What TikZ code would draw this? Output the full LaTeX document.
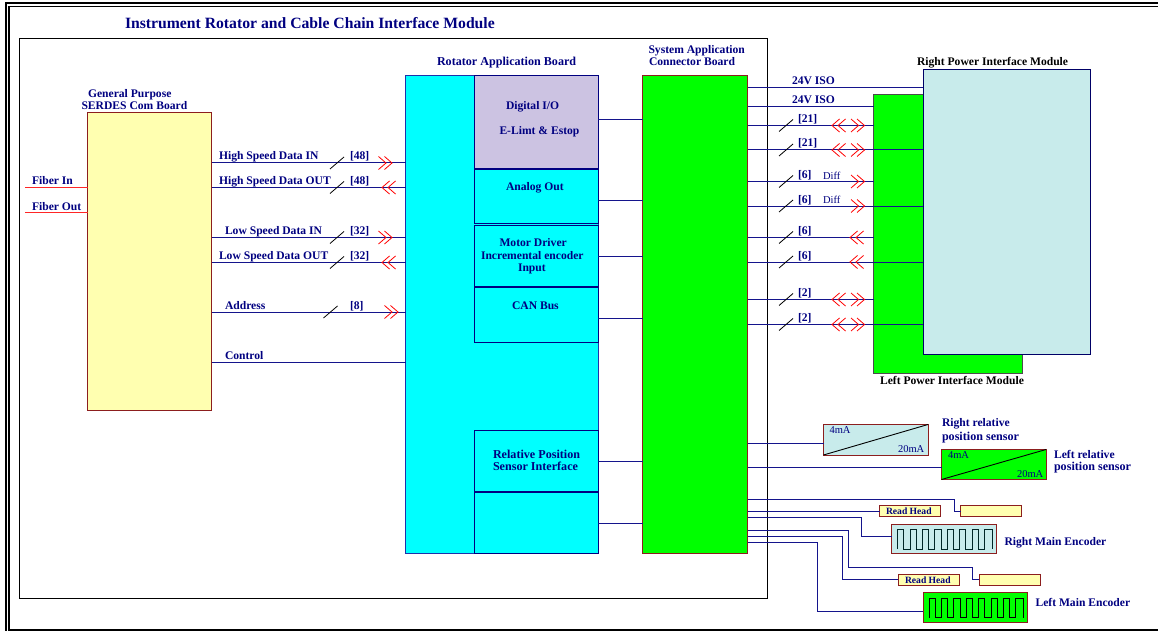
\documentclass[tikz,border=0pt]{standalone}
\usepackage{fontspec}
\setmainfont{Liberation Serif}
\usetikzlibrary{positioning}
\definecolor{navytxt}{RGB}{0,0,128}
\definecolor{wirecol}{RGB}{20,20,140}
\definecolor{boardred}{RGB}{140,30,30}
\definecolor{boardblue}{RGB}{30,50,170}
\definecolor{paleyellow}{RGB}{255,255,176}
\definecolor{palecyan}{RGB}{200,235,235}
\definecolor{lilac}{RGB}{204,195,226}
\definecolor{purecyan}{RGB}{0,255,255}
\definecolor{puregreen}{RGB}{0,255,0}
\tikzset{
  board/.style={draw=boardred,line width=1pt,inner sep=0pt,outer sep=0pt},
  subboard/.style={draw=navytxt,line width=1pt,inner sep=0pt,outer sep=0pt,fill=purecyan},
  lab/.style={anchor=base west,inner sep=0pt,outer sep=0pt,text=navytxt,font=\fontsize{11.6}{12}\selectfont\bfseries},
  widelab/.style={lab,font=\fontsize{12.1}{12}\selectfont\bfseries},
  blacklab/.style={lab,text=black},
  thinlab/.style={lab,font=\fontsize{10.5}{12}\selectfont},
  headlab/.style={lab,font=\fontsize{9.6}{12}\selectfont\bfseries},
  wire/.style={draw=wirecol,line width=1pt},
  fiber/.style={draw=red!85!white,line width=1pt},
  wave/.style={draw=black,line width=.9pt},
  busslash/.pic={\draw[black,line width=.8pt] (-7,6)--(7,-6);},
  chevr/.pic={\draw[red,line width=.8pt] (-7.5,-6.5)--(0,0)--(-7.5,6.5) (-1.5,-6.5)--(6,0)--(-1.5,6.5);},
  chevl/.pic={\draw[red,line width=.8pt] (7.5,-6.5)--(0,0)--(7.5,6.5) (1.5,-6.5)--(-6,0)--(1.5,6.5);}
}
\begin{document}
\begin{tikzpicture}[x=1pt,y=-1pt]
\useasboundingbox (0,0) rectangle (1158,631);
% outer frame
\draw[black,line width=2pt] (1158,3)--(5.5,3)--(5.5,631);
\draw[black,line width=1.8pt] (1158,6.5)--(9,6.5)--(9,630)--(1158,630);
\node[lab,font=\fontsize{15.7}{16}\selectfont\bfseries] (title) at (125,29) {Instrument Rotator and Cable Chain Interface Module};
\node[draw=black,line width=1pt,inner sep=0pt,outer sep=0pt,minimum width=748pt,minimum height=560pt] (module) at (393.5,318.5) {};

% boards
\node[board,fill=paleyellow,minimum width=124pt,minimum height=297pt] (serdes) at (149.5,261.5) {};
\node[subboard,draw=boardblue,minimum width=192.5pt,minimum height=478pt] (rab) at (501.75,314.5) {};
\node[subboard,fill=lilac,minimum width=123.5pt,minimum height=93.5pt] (dio) at (536.25,122.25) {};
\node[subboard,minimum width=123.5pt,minimum height=54pt] (aout) at (536.25,196.5) {};
\node[subboard,minimum width=123.5pt,minimum height=61pt] (motor) at (536.25,255.5) {};
\node[subboard,minimum width=123.5pt,minimum height=54.5pt] (can) at (536.25,314.75) {};
\node[subboard,minimum width=123.5pt,minimum height=61pt] (relpos) at (536.25,461) {};
\node[subboard,minimum width=123.5pt,minimum height=61pt] (spare) at (536.25,523) {};
\node[board,fill=puregreen,minimum width=105pt,minimum height=478pt] (sacb) at (695,314.5) {};
\node[draw=black!70,line width=1pt,fill=puregreen,inner sep=0pt,outer sep=0pt,minimum width=148.5pt,minimum height=279pt] (lpow) at (947.75,234) {};
\node[draw=black!60!blue,line width=1pt,fill=palecyan,inner sep=0pt,outer sep=0pt,minimum width=167pt,minimum height=285pt] (rpow) at (1006.5,212) {};
\node[board,fill=palecyan,minimum width=104.5pt,minimum height=30.5pt] (rrel) at (875.75,439.75) {};
\node[board,fill=puregreen,minimum width=104.5pt,minimum height=30pt] (lrel) at (993.75,464.5) {};
\node[board,fill=paleyellow,minimum width=61pt,minimum height=11pt] (rhead) at (910,511) {};
\node[board,fill=paleyellow,minimum width=61pt,minimum height=11pt] (rscale) at (991,511) {};
\node[board,fill=palecyan,minimum width=105pt,minimum height=29.5pt] (renc) at (944,538.75) {};
\node[board,fill=paleyellow,minimum width=61pt,minimum height=11pt] (lhead) at (928.5,579.5) {};
\node[board,fill=paleyellow,minimum width=61pt,minimum height=11pt] (lscale) at (1009.5,579.5) {};
\node[board,fill=puregreen,minimum width=104.5pt,minimum height=29.5pt] (lenc) at (975.25,607.25) {};

% board titles
\node[lab] (gplab) at (88,98) {General Purpose};
\node[lab] (sclab) at (81.5,110) {SERDES Com Board};
\node[widelab] (rablab) at (437,66) {Rotator Application Board};
\node[lab] (syslab) at (648.5,54) {System Application};
\node[lab] (conlab) at (649,66) {Connector Board};
\node[blacklab] (rpowlab) at (917,65.5) {Right Power Interface Module};
\node[blacklab] (lpowlab) at (880,384) {Left Power Interface Module};

% sub board texts
\node[lab] (diolab) at (506,110) {Digital I/O};
\node[lab] (elimlab) at (499.5,135) {E-Limt \& Estop};
\node[lab] (aoutlab) at (506,190.5) {Analog Out};
\node[lab] (motlab) at (499.5,246.5) {Motor Driver};
\node[lab] (inclab) at (481,259) {Incremental encoder};
\node[lab] (inplab) at (518,271.5) {Input};
\node[lab] (canlab) at (512,309) {CAN Bus};
\node[widelab] (rellab) at (493,458) {Relative Position};
\node[widelab] (senlab) at (493,470.5) {Sensor Interface};

% fibers
\coordinate (fibin) at (25,187.5);
\coordinate (fibout) at (25,212.5);
\draw[fiber] (fibin) -- (serdes.west |- fibin);
\draw[fiber] (fibout) -- (serdes.west |- fibout);
\node[lab] (fibinlab) at (32,185) {Fiber In};
\node[lab] (fiboutlab) at (32,210) {Fiber Out};

% serdes to rotator board
\foreach \nm/\yy/\xt/\txt/\xb/\bus in {hsi/163/219/High Speed Data IN/350/[48],hso/187.5/219/High Speed Data OUT/350/[48],lsi/237.5/225/Low Speed Data IN/350/[32],lso/262.5/219/Low Speed Data OUT/350/[32],adr/312/225/Address/350/[8]}{
  \draw[wire] (serdes.east |- 0,\yy) -- (rab.west |- 0,\yy);
  \node[lab] (\nm lab) at (\xt,\yy-3) {\txt};
  \node[lab] (\nm bus) at (\xb,\yy-3) {\bus};
}
\pic at (337,163) {busslash};
\pic at (337,187.5) {busslash};
\pic at (337,237.5) {busslash};
\pic at (337,262.5) {busslash};
\pic at (330.5,312) {busslash};
\pic at (386,163) {chevr};
\pic at (388,187.5) {chevl};
\pic at (386,237.5) {chevr};
\pic at (388,262.5) {chevl};
\pic at (392,312) {chevr};
\draw[wire] (serdes.east |- 0,362) -- (rab.west |- 0,362);
\node[lab] (ctrllab) at (225,359) {Control};

% rotator board to connector board
\draw[wire] (dio.east |- 0,119.5) -- (sacb.west |- 0,119.5);
\draw[wire] (aout.east |- 0,200) -- (sacb.west |- 0,200);
\draw[wire] (motor.east |- 0,256) -- (sacb.west |- 0,256);
\draw[wire] (can.east |- 0,318) -- (sacb.west |- 0,318);
\draw[wire] (relpos.east |- 0,461.5) -- (sacb.west |- 0,461.5);
\draw[wire] (spare.east |- 0,523.5) -- (sacb.west |- 0,523.5);

% power modules
\draw[wire] (sacb.east |- 0,88) -- (rpow.west |- 0,88);
\draw[wire] (sacb.east |- 0,106.5) -- (lpow.west |- 0,106.5);
\node[lab] (isoa) at (792,85) {24V ISO};
\node[lab] (isob) at (792,104) {24V ISO};
\foreach \nm/\yy/\tgt/\bus in {a/125.5/lpow/[21],b/150/rpow/[21],c/181.5/lpow/[6],d/206/rpow/[6],e/237.5/lpow/[6],f/262/rpow/[6],g/299.5/lpow/[2],h/324.5/rpow/[2]}{
  \draw[wire] (sacb.east |- 0,\yy) -- (\tgt.west |- 0,\yy);
  \pic at (786,\yy) {busslash};
  \node[lab] (bus\nm) at (798,\yy-3) {\bus};
}
\node[thinlab] (diffa) at (823,179) {Diff};
\node[thinlab] (diffb) at (823,204) {Diff};
\foreach \yy in {125.5,150,299.5,324.5}{
  \pic at (838,\yy) {chevl};
  \pic at (858.5,\yy) {chevr};
}
\pic at (858.5,181.5) {chevr};
\pic at (858.5,206) {chevr};
\pic at (856,237.5) {chevl};
\pic at (856,262) {chevl};

% relative sensors
\draw[wire] (sacb.east |- 0,443) -- (rrel.west |- 0,443);
\draw[wire] (sacb.east |- 0,467.5) -- (lrel.west |- 0,467.5);
\draw[black,line width=.9pt] (rrel.south west) -- (rrel.north east);
\draw[black,line width=.9pt] (lrel.south west) -- (lrel.north east);
\node[thinlab] (rfour) at (829.5,433.5) {4mA};
\node[thinlab] (rtwenty) at (898,452.5) {20mA};
\node[thinlab] (lfour) at (948,458.5) {4mA};
\node[thinlab] (ltwenty) at (1017,477.5) {20mA};
\node[lab] (rrela) at (942,426.5) {Right relative};
\node[widelab] (rrelb) at (942,440) {position sensor};
\node[lab] (lrela) at (1054,458) {Left relative};
\node[widelab] (lrelb) at (1054,470.5) {position sensor};

% encoders
\draw[wire] (sacb.east |- 0,499) -| (954.5,511) -- (rscale.west);
\draw[wire] (sacb.east |- rhead.west) -- (rhead.west);
\draw[wire] (sacb.east |- 0,517.5) -| (861,536.5) -- (renc.west |- 0,536.5);
\draw[wire] (sacb.east |- 0,530) -| (848,567.5) -| (972.5,579.5) -- (lscale.west);
\draw[wire] (sacb.east |- 0,536.5) -| (842,579.5) -- (lhead.west);
\draw[wire] (sacb.east |- 0,542.5) -| (817,611) -- (lenc.west |- 0,611);
\node[headlab] (rheadlab) at (886,514.5) {Read Head};
\node[headlab] (lheadlab) at (905,583) {Read Head};
\draw[wave,draw=black!70!teal] (897.7,549) foreach \i in {1,...,7}{ -- ++(0,-19.5) -- ++(6.2,0) -- ++(0,19.5) -- ++(6.2,0)} -- ++(0,-19.5) -- ++(7.5,0) -- ++(0,19.5);
\draw[wave] (929,617.5) foreach \i in {1,...,7}{ -- ++(0,-19.5) -- ++(6.2,0) -- ++(0,19.5) -- ++(6.2,0)} -- ++(0,-19.5) -- ++(7.5,0) -- ++(0,19.5);
\node[lab] (renclab) at (1004.5,545) {Right Main Encoder};
\node[lab] (lenclab) at (1035.5,606.5) {Left Main Encoder};
\end{tikzpicture}
\end{document}
